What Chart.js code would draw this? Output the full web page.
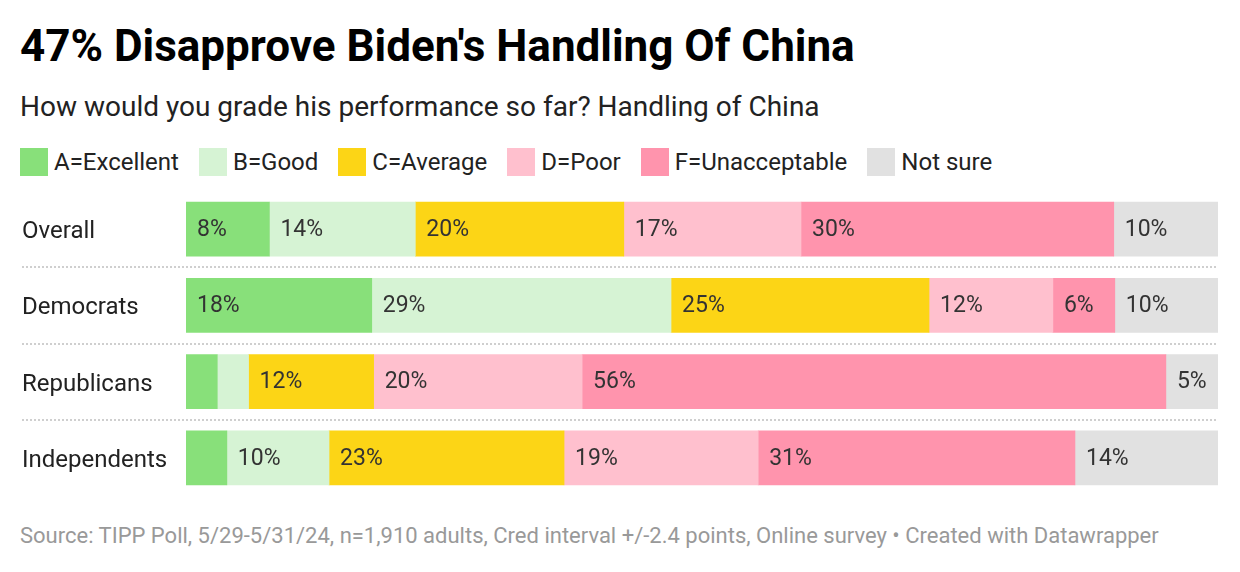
<!DOCTYPE html>
<html>
<head>
<meta charset="utf-8">
<script src="https://cdn.jsdelivr.net/npm/chart.js@4"></script>
<style>
  body { margin: 0; width: 1240px; height: 572px; background: #fff; font-family: Roboto, sans-serif; color: #111; position: relative; overflow: hidden; }
  .title { position: absolute; left: 20px; top: 20px; font-size: 44px; font-weight: 700; line-height: 52px; color: #000; white-space: nowrap; }
  .subtitle { position: absolute; left: 20px; top: 91px; font-size: 28px; line-height: 32px; color: #222; white-space: nowrap; }
  .legend { position: absolute; left: 20px; top: 146px; display: flex; font-size: 24px; line-height: 32px; color: #222; white-space: nowrap; }
  .legend span.item { display: flex; align-items: center; margin-right: 20px; }
  .legend i { display: inline-block; width: 28px; height: 28px; margin-right: 6px; }
  .wrap { position: absolute; left: 22px; top: 179px; width: 1196px; height: 329px; }
  .footer { position: absolute; left: 20px; top: 522px; font-size: 22px; line-height: 28px; color: #999; white-space: nowrap; }
</style>
</head>
<body>
<div class="title">47% Disapprove Biden's Handling Of China</div>
<div class="subtitle">How would you grade his performance so far? Handling of China</div>
<div class="legend" id="legend"></div>
<div class="wrap"><canvas id="myChart"></canvas></div>
<div class="footer">Source: TIPP Poll, 5/29-5/31/24, n=1,910 adults, Cred interval +/-2.4 points, Online survey • Created with Datawrapper</div>
<script>
const groups = ['Overall', 'Democrats', 'Republicans', 'Independents'];
const grades = ['A=Excellent', 'B=Good', 'C=Average', 'D=Poor', 'F=Unacceptable', 'Not sure'];
const colors = ['#88e07a', '#d6f3d4', '#fcd516', '#ffc0ce', '#ff94ad', '#e1e1e1'];

// percent per group, in grade order
const overall      = [8, 14, 20, 17, 30, 10];
const democrats    = [18, 29, 25, 12, 6, 10];
const republicans  = [3, 3, 12, 20, 56, 5];
const independents = [4, 10, 23, 19, 31, 14];

const rows = [overall, democrats, republicans, independents];
const totals = rows.map(r => r.reduce((a, b) => a + b, 0));

// legend
const lg = document.getElementById('legend');
grades.forEach((g, i) => {
  const s = document.createElement('span');
  s.className = 'item';
  s.innerHTML = '<i style="background:' + colors[i] + '"></i>' + g;
  lg.appendChild(s);
});

// each row is stacked to 100%
const datasets = grades.map((g, i) => ({
  label: g,
  data: rows.map((r, j) => r[i] / totals[j] * 100),
  raw: rows.map(r => r[i]),
  backgroundColor: colors[i],
  borderWidth: 0,
  barThickness: 54
}));

const separators = {
  id: 'separators',
  beforeDatasetsDraw(chart) {
    const { ctx, scales: { y }, chartArea } = chart;
    ctx.save();
    ctx.strokeStyle = '#cfcfcf';
    ctx.lineWidth = 2;
    ctx.setLineDash([2, 2]);
    for (let i = 0; i < groups.length - 1; i++) {
      const yy = Math.round((y.getPixelForValue(i) + y.getPixelForValue(i + 1)) / 2);
      ctx.beginPath();
      ctx.moveTo(0, yy);
      ctx.lineTo(chartArea.right, yy);
      ctx.stroke();
    }
    ctx.restore();
  }
};

const barLabels = {
  id: 'barLabels',
  afterDatasetsDraw(chart) {
    const ctx = chart.ctx;
    ctx.save();
    ctx.font = '23px Roboto';
    ctx.fillStyle = '#333';
    ctx.textBaseline = 'middle';
    chart.data.datasets.forEach((ds, i) => {
      chart.getDatasetMeta(i).data.forEach((bar, j) => {
        const w = bar.x - bar.base;
        if (w < 50) return;
        ctx.fillText(ds.raw[j] + '%', bar.base + 11, bar.y + 1);
      });
    });
    ctx.restore();
  }
};

new Chart(document.getElementById('myChart'), {
  type: 'bar',
  data: { labels: groups, datasets: datasets },
  options: {
    indexAxis: 'y',
    responsive: true,
    maintainAspectRatio: false,
    animation: false,
    layout: { padding: 0 },
    plugins: { legend: { display: false }, tooltip: { enabled: false } },
    scales: {
      x: { stacked: true, min: 0, max: 100, display: false },
      y: {
        stacked: true,
        grid: { display: false },
        border: { display: false },
        ticks: { crossAlign: 'far', padding: 0, labelOffset: 3, color: '#222', font: { family: 'Roboto', size: 24, lineHeight: 1 } },
        afterFit(scale) { scale.width = 164; }
      }
    }
  },
  plugins: [separators, barLabels]
});
</script>
</body>
</html>
